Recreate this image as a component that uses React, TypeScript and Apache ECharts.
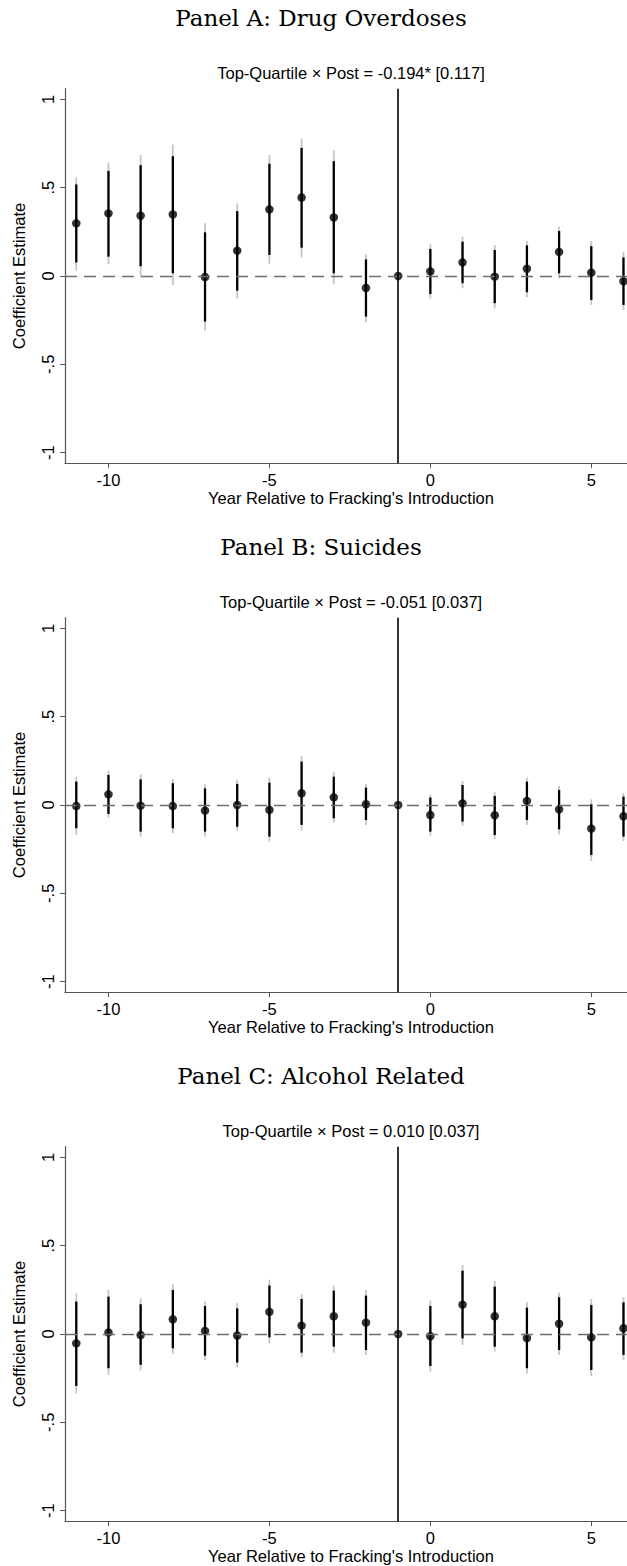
import React, { useEffect, useRef } from "react";
import * as echarts from "echarts";

const years = [-11, -10, -9, -8, -7, -6, -5, -4, -3, -2, -1, 0, 1, 2, 3, 4, 5, 6];

const panelTitles = ["Panel A: Drug Overdoses", "Panel B: Suicides", "Panel C: Alcohol Related"];
const subtitles = [
  "Top-Quartile × Post = -0.194* [0.117]",
  "Top-Quartile × Post = -0.051 [0.037]",
  "Top-Quartile × Post = 0.010 [0.037]",
];
const xAxisTitle = "Year Relative to Fracking's Introduction";
const yAxisTitle = "Coefficient Estimate";
const yTicks = [-1, -0.5, 0, 0.5, 1];
const yTickLabels = ["-1", "-.5", "0", ".5", "1"];
const xTicks = [-10, -5, 0, 5];

// Panel A: Drug Overdoses
const coefA = [0.298, 0.354, 0.341, 0.348, -0.006, 0.143, 0.377, 0.444, 0.331, -0.068, 0, 0.026, 0.077, -0.004, 0.041, 0.136, 0.019, -0.03];
const innerLoA = [0.077, 0.109, 0.055, 0.015, -0.258, -0.083, 0.119, 0.16, 0.015, -0.23, null, -0.102, -0.041, -0.154, -0.092, 0.015, -0.136, -0.164];
const innerHiA = [0.518, 0.595, 0.627, 0.678, 0.247, 0.367, 0.635, 0.725, 0.65, 0.094, null, 0.153, 0.194, 0.147, 0.173, 0.254, 0.169, 0.105];
const outerLoA = [0.03, 0.066, -0.002, -0.051, -0.309, -0.128, 0.07, 0.105, -0.047, -0.262, null, -0.128, -0.07, -0.183, -0.121, -0.013, -0.164, -0.192];
const outerHiA = [0.557, 0.642, 0.684, 0.744, 0.298, 0.411, 0.684, 0.778, 0.712, 0.122, null, 0.181, 0.222, 0.175, 0.198, 0.279, 0.198, 0.134];

// Panel B: Suicides
const coefB = [-0.006, 0.06, -0.004, -0.006, -0.032, 0.0, -0.028, 0.066, 0.043, 0.004, 0, -0.057, 0.009, -0.058, 0.023, -0.025, -0.134, -0.064];
const innerLoB = [-0.132, -0.051, -0.151, -0.132, -0.151, -0.123, -0.179, -0.113, -0.075, -0.085, null, -0.151, -0.094, -0.17, -0.085, -0.138, -0.283, -0.179];
const innerHiB = [0.132, 0.17, 0.145, 0.123, 0.094, 0.119, 0.126, 0.245, 0.16, 0.098, null, 0.042, 0.113, 0.051, 0.132, 0.085, 0.004, 0.047];
const outerLoB = [-0.17, -0.072, -0.179, -0.16, -0.179, -0.145, -0.208, -0.145, -0.1, -0.113, null, -0.174, -0.117, -0.192, -0.113, -0.166, -0.317, -0.204];
const outerHiB = [0.16, 0.194, 0.174, 0.147, 0.117, 0.142, 0.155, 0.277, 0.189, 0.119, null, 0.06, 0.136, 0.072, 0.155, 0.108, 0.032, 0.068];

// Panel C: Alcohol Related
const coefC = [-0.053, 0.008, -0.006, 0.083, 0.017, -0.009, 0.125, 0.047, 0.1, 0.064, 0, -0.013, 0.166, 0.1, -0.023, 0.058, -0.019, 0.032];
const innerLoC = [-0.294, -0.194, -0.175, -0.081, -0.123, -0.162, -0.019, -0.106, -0.072, -0.091, null, -0.181, -0.025, -0.072, -0.194, -0.091, -0.204, -0.119];
const innerHiC = [0.183, 0.211, 0.168, 0.249, 0.158, 0.145, 0.274, 0.198, 0.245, 0.217, null, 0.158, 0.358, 0.268, 0.149, 0.208, 0.164, 0.179];
const outerLoC = [-0.336, -0.232, -0.208, -0.113, -0.147, -0.189, -0.053, -0.134, -0.106, -0.119, null, -0.213, -0.062, -0.1, -0.226, -0.119, -0.238, -0.147];
const outerHiC = [0.23, 0.249, 0.202, 0.281, 0.183, 0.174, 0.306, 0.225, 0.274, 0.249, null, 0.189, 0.391, 0.3, 0.179, 0.234, 0.198, 0.208];

const panels = [
  { coef: coefA, innerLo: innerLoA, innerHi: innerHiA, outerLo: outerLoA, outerHi: outerHiA },
  { coef: coefB, innerLo: innerLoB, innerHi: innerHiB, outerLo: outerLoB, outerHi: outerHiB },
  { coef: coefC, innerLo: innerLoC, innerHi: innerHiC, outerLo: outerLoC, outerHi: outerHiC },
];

const SANS = "'Liberation Sans', Arial, sans-serif";
const SERIF = "'DejaVu Serif', 'Liberation Serif', serif";
const FS = 16.5;

const CHART_W = 660;
const CHART_H = 1566;
const PANEL_STEP = 529;
const GRID_TOP = 88.7;
const GRID_H = 374.5;
const GRID_LEFT = 65;
const GRID_RIGHT_EDGE = 637;

function ciRenderer(color: string, width: number) {
  return (params: any, api: any) => {
    const x = api.value(0);
    const p1 = api.coord([x, api.value(1)]);
    const p2 = api.coord([x, api.value(2)]);
    return {
      type: "line",
      shape: { x1: p1[0], y1: p1[1], x2: p2[0], y2: p2[1] },
      style: { stroke: color, lineWidth: width },
    };
  };
}

function buildOption() {
  const grid: any[] = [];
  const xAxis: any[] = [];
  const yAxis: any[] = [];
  const series: any[] = [];
  const graphic: any[] = [];

  panels.forEach((p, i) => {
    const off = i * PANEL_STEP;
    grid.push({
      left: GRID_LEFT,
      top: GRID_TOP + off,
      width: GRID_RIGHT_EDGE - GRID_LEFT,
      height: GRID_H,
      containLabel: false,
    });
    xAxis.push({
      type: "value",
      gridIndex: i,
      min: -11.35,
      max: 6.42,
      name: xAxisTitle,
      nameLocation: "middle",
      nameGap: 26,
      nameTextStyle: { fontFamily: SANS, fontSize: FS, color: "#000" },
      axisLine: { show: true, onZero: false, lineStyle: { color: "#555", width: 1.2 } },
      axisTick: { show: true, length: 5, customValues: xTicks, lineStyle: { color: "#555", width: 1 } },
      axisLabel: { show: true, customValues: xTicks, margin: 8, fontFamily: SANS, fontSize: FS, color: "#000" },
      splitLine: { show: false },
    });
    yAxis.push({
      type: "value",
      gridIndex: i,
      min: -1.06,
      max: 1.06,
      name: yAxisTitle,
      nameLocation: "middle",
      nameRotate: 90,
      nameGap: 38,
      nameTextStyle: { fontFamily: SANS, fontSize: FS, color: "#000" },
      axisLine: { show: true, onZero: false, lineStyle: { color: "#555", width: 1.2 } },
      axisTick: { show: true, length: 5, customValues: yTicks, lineStyle: { color: "#555", width: 1 } },
      axisLabel: {
        show: true,
        customValues: yTicks,
        rotate: 90,
        margin: 9,
        fontFamily: SANS,
        fontSize: FS,
        color: "#000",
        formatter: (v: number) => {
          const k = yTicks.findIndex((t) => Math.abs(t - v) < 1e-9);
          return k >= 0 ? yTickLabels[k] : "";
        },
      },
      splitLine: { show: false },
    });

    const outerData = years
      .map((y, k) => (p.outerLo[k] == null ? null : [y, p.outerLo[k], p.outerHi[k]]))
      .filter(Boolean);
    const innerData = years
      .map((y, k) => (p.innerLo[k] == null ? null : [y, p.innerLo[k], p.innerHi[k]]))
      .filter(Boolean);

    series.push({
      type: "custom",
      xAxisIndex: i,
      yAxisIndex: i,
      z: 2,
      renderItem: ciRenderer("#c4c4c4", 1.8),
      encode: { x: 0, y: [1, 2] },
      data: outerData,
      silent: true,
      markLine: {
        silent: true,
        symbol: ["none", "none"],
        label: { show: false },
        data: [
          { yAxis: 0, lineStyle: { color: "#6e6e6e", width: 1.3, type: [12, 7] } },
          { xAxis: -1, lineStyle: { color: "#000", width: 1.6, type: "solid" } },
        ],
      },
    });
    series.push({
      type: "custom",
      xAxisIndex: i,
      yAxisIndex: i,
      z: 3,
      renderItem: ciRenderer("#000", 2.3),
      encode: { x: 0, y: [1, 2] },
      data: innerData,
      silent: true,
    });
    series.push({
      type: "scatter",
      xAxisIndex: i,
      yAxisIndex: i,
      z: 4,
      symbol: "circle",
      symbolSize: 8.5,
      itemStyle: { color: "#000" },
      data: years.map((y, k) => [y, p.coef[k]]),
      silent: true,
    });

    graphic.push({
      type: "text",
      x: 321,
      y: 18 + off,
      style: {
        text: panelTitles[i],
        font: `23px ${SERIF}`,
        fill: "#000",
        align: "center",
        verticalAlign: "middle",
        textAlign: "center",
        textVerticalAlign: "middle",
      },
    });
    graphic.push({
      type: "text",
      x: 351,
      y: 73 + off,
      style: {
        text: subtitles[i],
        font: `${FS}px ${SANS}`,
        fill: "#000",
        align: "center",
        verticalAlign: "middle",
        textAlign: "center",
        textVerticalAlign: "middle",
      },
    });
  });

  return {
    animation: false,
    backgroundColor: "#fff",
    grid,
    xAxis,
    yAxis,
    series,
    graphic,
  };
}

export default function App() {
  const ref = useRef<HTMLDivElement>(null);
  useEffect(() => {
    if (!ref.current) return;
    const chart = echarts.init(ref.current, null, { renderer: "svg" });
    chart.setOption(buildOption() as any);
    return () => chart.dispose();
  }, []);
  return (
    <div
      style={{
        position: "absolute",
        left: 0,
        top: 0,
        width: 627,
        height: CHART_H,
        overflow: "hidden",
        background: "#fff",
      }}
    >
      <div ref={ref} style={{ width: CHART_W, height: CHART_H }} />
    </div>
  );
}
